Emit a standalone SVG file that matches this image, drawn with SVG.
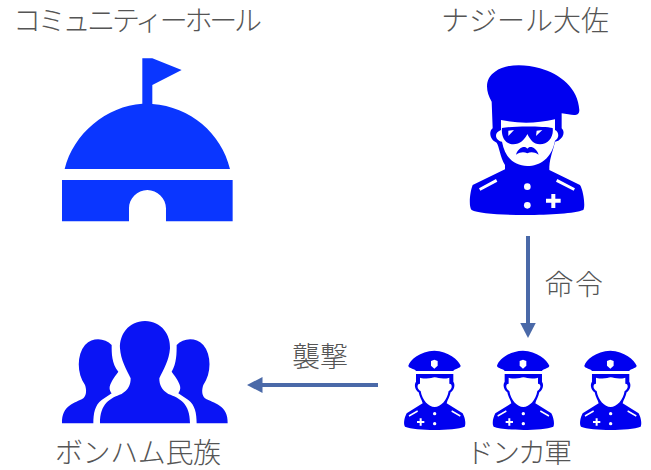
<svg xmlns="http://www.w3.org/2000/svg" width="651" height="470" viewBox="0 0 651 470">
<style>
text{font-family:"Noto Sans CJK JP","Liberation Sans",sans-serif;fill:#555;font-weight:300}
.t{font-size:28px}
.w{fill:#fff}
.conn{stroke:#4a69a8;fill:none;stroke-width:4}
</style>
<defs>
<marker id="ah" markerUnits="userSpaceOnUse" markerWidth="16" markerHeight="16" refX="0.5" refY="8" orient="auto"><path d="M0 0L15.5 8L0 16Z" fill="#4a69a8"/></marker>
<g id="soldier">
<path fill="#0000f0" d="M55 92C60 75 90 48 133 47C175 48 205 75 212 92C212 100 190 102 190 108L78 108C78 102 55 100 55 92Z"/>
<path fill="#0000f0" d="M78 117L190 117L190 140C197 150 192 165 182 172C180 185 172 195 170 205L218 235C226 250 228 268 224 275C190 288 78 288 45 275C40 268 42 250 50 235L98 205C96 195 88 185 86 172C76 165 71 150 78 140Z"/>
<path class="w" d="M90 128C115 135 125 127 134 127C145 127 155 135 178 128L178 146C188 146 188 162 176 168C172 195 152 216 134 216C116 216 96 195 92 168C80 162 80 146 90 146Z"/>
<path class="w" d="M123 78L133 74L143 78L143 92L133 101L123 92Z"/>
<path class="w" d="M56 241L82 226L84 230L58 245ZM186 226L212 241L210 245L184 230Z"/>
<circle class="w" cx="134" cy="236" r="5"/><circle class="w" cx="134" cy="266" r="5"/>
<path class="w" d="M89 250h6v8h8v6h-8v8h-6v-8h-8v-6h8Z"/>
</g>
</defs>
<g id="connectors">
<path class="conn" d="M528 236V323" marker-end="url(#ah)"/>
<path class="conn" d="M378 385H262" marker-end="url(#ah)"/>
</g>
<g id="community-hall">
<g transform="translate(50 50) scale(.3333)">
<path fill="#0a36ff" d="M277 25H307L395 60L307 105V162C420 170 515 250 540 357H44C70 250 170 168 277 161Z"/>
<path fill="#0a36ff" d="M36 390H548V514H348V475C348 445 322 420 292 420C262 420 237 445 237 475V514H36Z"/>
</g>
<text class="t" x="13" y="31" textLength="249" lengthAdjust="spacing">コミュニティーホール</text>
</g>
<g id="nasir">
<g transform="translate(440 50) scale(.3333)">
<path fill="#0000f0" d="M155 155C135 120 135 85 165 65C195 42 250 40 300 55C360 72 415 115 418 180C418 197 405 197 385 193L365 190V235C375 245 372 262 355 272L345 275C340 300 330 320 328 350V360L420 405C430 420 437 470 430 480C380 500 130 500 95 480C85 470 90 425 98 405L195 358V345C180 320 178 290 170 278C150 270 145 245 158 235Z"/>
<path class="w" d="M183 210C240 222 290 220 345 208V240C356 245 360 262 345 272C335 325 300 348 262 348C225 348 195 325 186 275C168 272 158 250 183 240Z"/>
<path fill="#0000f0" d="M186 234C215 228 310 228 338 234C342 260 325 283 300 283C280 283 270 268 262 252C255 268 240 283 220 283C195 283 183 260 186 234Z"/>
<path class="w" d="M205 242L222 240L205 258ZM290 242L307 240L288 258Z"/>
<path fill="#0000f0" d="M228 314C235 292 255 286 262 296C270 286 288 292 296 314C282 305 272 305 262 310C252 305 242 305 228 314Z"/>
<path class="w" d="M117 415L168 387L172 395L121 422ZM352 387L405 415L401 422L348 395Z"/>
<circle class="w" cx="262" cy="410" r="10"/><circle class="w" cx="262" cy="466" r="10"/>
<path class="w" d="M334 432h12v14h16v12h-16v16h-12v-16h-16v-12h16Z"/>
</g>
<text class="t" x="441" y="31">ナジール大佐</text>
</g>
<g id="donka-army">
<g transform="translate(390 335) scale(.3333)">
<use href="#soldier"/>
<use href="#soldier" x="266"/>
<use href="#soldier" x="528"/>
</g>
<text class="t" x="466" y="463" textLength="106" lengthAdjust="spacing">ドンカ軍</text>
</g>
<g id="bonham">
<g transform="translate(40 310) scale(.3333)" fill="#0a14f5">
<path d="M215 105C195 85 160 80 135 105C110 135 110 190 135 225C140 240 140 255 130 265C105 280 65 285 66 340H160C160 310 165 285 185 270L215 250C205 235 205 225 235 185C215 160 215 130 215 105Z"/>
<path d="M410 105C430 85 465 80 490 105C515 135 515 190 490 225C485 240 485 255 495 265C520 280 565 285 563 340H470C470 310 465 285 445 270L415 250C425 235 425 225 395 185C410 160 410 130 410 105Z"/>
<path d="M315 33C365 33 392 75 390 115C388 150 370 180 358 205C358 225 365 240 385 252C420 265 450 280 450 340H180C180 280 210 265 245 252C265 240 272 225 272 205C260 180 242 150 240 115C238 75 265 33 315 33Z"/>
</g>
<text class="t" x="55" y="463" textLength="166" lengthAdjust="spacing">ボンハム民族</text>
</g>
<text class="t" x="545" y="295" textLength="58" lengthAdjust="spacing">命令</text>
<text class="t" x="292" y="367" textLength="56" lengthAdjust="spacing">襲撃</text>
</svg>
